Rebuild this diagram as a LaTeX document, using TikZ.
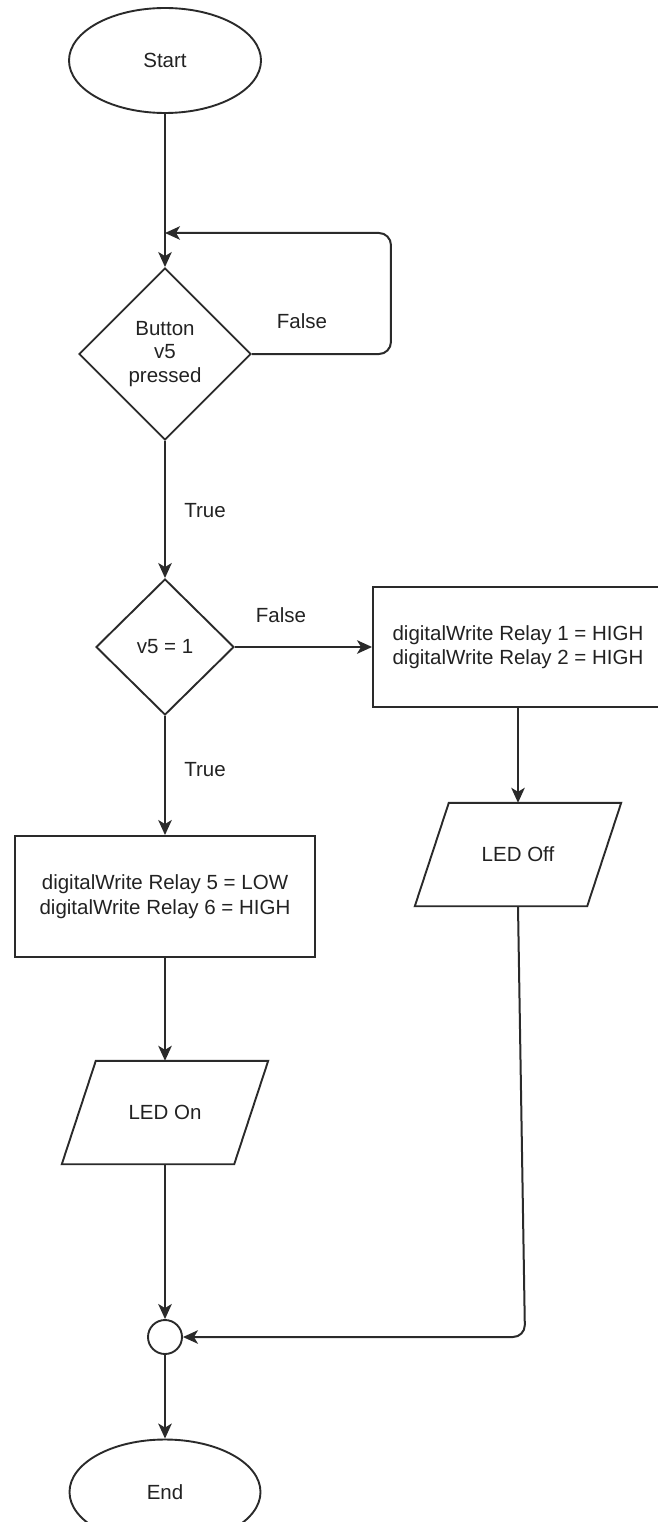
\documentclass[tikz,border=0pt]{standalone}
\usepackage{fontspec}
\setmainfont{Liberation Sans}
\usetikzlibrary{shapes.geometric,arrows.meta,calc}
\definecolor{ln}{HTML}{2A2A2A}
\definecolor{tx}{HTML}{222222}
\begin{document}
\begin{tikzpicture}[x=1pt,y=-1pt,
  every node/.style={font=\fontsize{20.5}{24.5}\selectfont, text=tx},
  shp/.style={draw=ln, line width=1.9pt, inner sep=0pt, align=center},
  term/.style={shp, ellipse, minimum width=192pt, minimum height=105pt},
  dec/.style={shp, diamond, aspect=1},
  proc/.style={shp, rectangle},
  iobox/.style={inner sep=0pt, minimum width=172pt, minimum height=103pt, align=center},
  paraline/.style={draw=ln, line width=1.9pt, line join=miter},
  arr/.style={draw=ln, line width=2pt, -{Stealth[length=15pt,width=13.5pt,inset=4pt]}},
  lbl/.style={inner sep=0pt}]
\useasboundingbox (0,0) rectangle (657,1522);

% nodes
\node[term] (start) at (165,60.5) {Start};
\node[dec, minimum width=172pt, minimum height=172pt, font=\fontsize{20.5}{23.5}\selectfont] (d1) at (165,354) {Button\\v5\\pressed};
\node[dec, minimum width=138pt, minimum height=136pt] (d2) at (165,647) {v5 = 1};
\node[proc, minimum width=290pt, minimum height=120pt] (box1) at (518,647) {digitalWrite Relay 1 = HIGH\\digitalWrite Relay 2 = HIGH};
\node[iobox] (ledoff) at (518,854.5) {LED Off};
\node[proc, minimum width=300pt, minimum height=121pt] (box2) at (165,896.5) {digitalWrite Relay 5 = LOW\\digitalWrite Relay 6 = HIGH};
\node[iobox] (ledon) at (165,1112.5) {LED On};
\node[shp, circle, minimum size=34pt] (join) at (165,1337) {};
\node[term, minimum width=191pt] (end) at (165,1492) {End};

% parallelograms
\draw[paraline] ($(ledoff.north west)+(17,0)$) -- ($(ledoff.north east)+(17,0)$) -- ($(ledoff.south east)+(-17,0)$) -- ($(ledoff.south west)+(-17,0)$) -- cycle;
\draw[paraline] ($(ledon.north west)+(17,0)$) -- ($(ledon.north east)+(17,0)$) -- ($(ledon.south east)+(-17,0)$) -- ($(ledon.south west)+(-17,0)$) -- cycle;

% labels
\node[lbl] (f1) at (302,321) {False};
\node[lbl] (t1) at (205,511) {True};
\node[lbl] (f2) at (281,615) {False};
\node[lbl] (t2) at (205,770) {True};

% connectors
\coordinate (loopin) at (165,233);
\coordinate (offcorner) at (525,1337);
\draw[arr] (start.south) -- (d1.north);
\draw[arr, rounded corners=12pt] (d1.east) -- ++(139,0) |- (loopin);
\draw[arr] (d1.south) -- (d2.north);
\draw[arr] (d2.east) -- (box1.west);
\draw[arr] (box1.south) -- (ledoff.north);
\draw[arr] (d2.south) -- (box2.north);
\draw[arr] (box2.south) -- (ledon.north);
\draw[arr] (ledon.south) -- (join.north);
\draw[arr, rounded corners=12pt] (ledoff.south) -- (offcorner) -- (join.east);
\draw[arr] (join.south) -- (end.north);
\end{tikzpicture}
\end{document}
